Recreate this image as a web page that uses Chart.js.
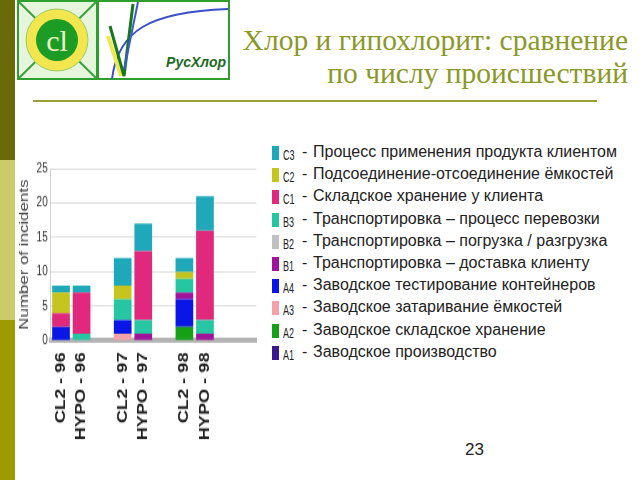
<!DOCTYPE html>
<html>
<head>
<meta charset="utf-8">
<script src="https://cdn.jsdelivr.net/npm/chart.js@4/dist/chart.umd.min.js"></script>
<style>
  html, body { margin:0; padding:0; background:#fff; width:640px; height:480px; overflow:hidden; }
  body { position:relative; font-family:"Liberation Sans", Arial, sans-serif; }
  .strip { position:absolute; left:0; width:15px; }
  #s1 { top:0; height:160px; background:#6a6a08; }
  #s2 { top:160px; height:160px; background:#cbcb6c; }
  #s3 { top:320px; height:160px; background:#9c9c02; }
  #logo { position:absolute; left:16px; top:0; }
  .title { position:absolute; right:12px; font-family:"Liberation Serif", "DejaVu Serif", serif; color:#8a9828; font-size:29.5px; white-space:nowrap; }
  #t1 { top:24px; }
  #t2 { top:57px; }
  #rule { position:absolute; left:33px; top:100px; width:564px; height:2px; background:#9aa032; }
  #chartWrap { position:absolute; left:10px; top:153px; width:262px; height:230px; transform:scaleY(1.3); transform-origin:0 0; }
  #legend { position:absolute; left:272px; top:143px; }
  .row { position:relative; height:22.2px; width:360px; }
  .sw { position:absolute; left:0; top:3px; width:7px; height:14px; }
  .code { position:absolute; left:11px; top:6px; font-size:9px; line-height:9px; color:#222; transform:scaleY(1.6); transform-origin:0 0; }
  .dash { position:absolute; left:30px; top:0px; font-size:16px; color:#222; }
  .desc { position:absolute; left:41px; top:0px; font-size:16px; color:#222; white-space:nowrap; }
  #page { position:absolute; left:465px; top:440px; font-size:17px; color:#222; }
</style>
</head>
<body>
<div class="strip" id="s1"></div>
<div class="strip" id="s2"></div>
<div class="strip" id="s3"></div>
<svg id="logo" width="216" height="82" viewBox="16 0 216 82">
  <rect x="18" y="1" width="79" height="78" fill="#e6f6dc" stroke="#2e9e2e" stroke-width="2"/>
  <line x1="18" y1="1" x2="97" y2="79" stroke="#3aa03a" stroke-width="2"/>
  <line x1="97" y1="1" x2="18" y2="79" stroke="#3aa03a" stroke-width="2"/>
  <circle cx="57" cy="40" r="31" fill="#f2e64e"/>
  <circle cx="57" cy="40" r="31" fill="none" stroke="#9ccc60" stroke-width="1"/>
  <circle cx="57" cy="40" r="21" fill="#1c9c24"/>
  <text x="57" y="51" text-anchor="middle" font-family="Liberation Serif" font-size="30" fill="#e8f4c8">cl</text>
  <rect x="98" y="1" width="131" height="78" fill="#fff" stroke="#2e9e2e" stroke-width="2"/>
  <path d="M112 79 C118 30, 150 12, 228 9" fill="none" stroke="#3a4ec8" stroke-width="2"/>
  <path d="M108 36 L121 76" stroke="#f0e850" stroke-width="4"/>
  <path d="M110 26 L124 76 L133 4" fill="none" stroke="#187818" stroke-width="3"/>
  <path d="M124 70 L138 2" stroke="#3a58d8" stroke-width="2"/>
  <text x="226" y="67" text-anchor="end" font-family="Liberation Sans" font-weight="bold" font-style="italic" font-size="14" fill="#1e6a1e">РусХлор</text>
</svg>
<div class="title" id="t1">Хлор и гипохлорит: сравнение</div>
<div class="title" id="t2">по числу происшествий</div>
<div id="rule"></div>
<div id="chartWrap"><canvas id="c" width="262" height="230"></canvas></div>
<div id="legend"></div>
<div id="page">23</div>
<script>
const categories = ["CL2 - 96", "HYPO - 96", "", "CL2 - 97", "HYPO - 97", "", "CL2 - 98", "HYPO - 98", "", ""];
const yTicks = [0, 5, 10, 15, 20, 25];
const codes = ["A1", "A2", "A3", "A4", "B1", "B2", "B3", "C1", "C2", "C3"];
const descriptions = [
  "Заводское производство",
  "Заводское складское хранение",
  "Заводское затаривание ёмкостей",
  "Заводское тестирование контейнеров",
  "Транспортировка – доставка клиенту",
  "Транспортировка – погрузка / разгрузка",
  "Транспортировка – процесс перевозки",
  "Складское хранение у клиента",
  "Подсоединение-отсоединение ёмкостей",
  "Процесс применения продукта клиентом"
];
const colors = ["#3c1890", "#16a016", "#f4a2aa", "#0a16e6", "#a0149c", "#c0c0c0", "#26c6a2", "#e0287c", "#c6c41e", "#1ea8ba"];
const A1 = [0, 0, null, 0, 0, null, 0, 0, null, null];
const A2 = [0, 0, null, 0, 0, null, 2, 0, null, null];
const A3 = [0, 0, null, 1, 0, null, 0, 0, null, null];
const A4 = [2, 0, null, 2, 0, null, 4, 0, null, null];
const B1 = [0, 0, null, 0, 1, null, 1, 1, null, null];
const B2 = [0, 0, null, 0, 0, null, 0, 0, null, null];
const B3 = [0, 1, null, 3, 2, null, 2, 2, null, null];
const C1 = [2, 6, null, 0, 10, null, 0, 13, null, null];
const C2 = [3, 0, null, 2, 0, null, 1, 0, null, null];
const C3 = [1, 1, null, 4, 4, null, 2, 5, null, null];
const series = [A1, A2, A3, A4, B1, B2, B3, C1, C2, C3];

// HTML legend (top row = C3)
const leg = document.getElementById('legend');
for (let i = codes.length - 1; i >= 0; i--) {
  const r = document.createElement('div');
  r.className = 'row';
  r.innerHTML = '<div class="sw" style="background:' + colors[i] + '"></div>' +
    '<span class="code">' + codes[i] + '</span><span class="dash">-</span>' +
    '<span class="desc">' + descriptions[i] + '</span>';
  leg.appendChild(r);
}

new Chart(document.getElementById('c'), {
  type: 'bar',
  data: {
    labels: categories,
    datasets: series.map((d, i) => ({
      label: codes[i],
      data: d,
      backgroundColor: colors[i],
      borderWidth: 0,
      barPercentage: 0.86,
      categoryPercentage: 1
    }))
  },
  options: {
    responsive: false,
    animation: false,
    layout: { padding: { top: 12, right: 2, bottom: 0, left: 6 } },
    plugins: { legend: { display: false }, tooltip: { enabled: false } },
    scales: {
      x: {
        stacked: true,
        grid: { display: false, drawTicks: false, tickLength: 0 },
        border: { color: '#b4b4b4', width: 4 },
        ticks: {
          autoSkip: false, minRotation: 90, maxRotation: 90, padding: 9,
          color: '#222', font: { family: 'Liberation Sans', size: 14, weight: 'bold' }
        }
      },
      y: {
        stacked: true,
        min: 0, max: 25,
        afterBuildTicks: s => { s.ticks = yTicks.map(v => ({ value: v })); },
        grid: { color: '#dcdcdc', drawTicks: false, tickLength: 0 },
        border: { color: '#d0d0d0' },
        ticks: { padding: 3, color: '#333', font: { family: 'Liberation Sans', size: 10 } },
        title: { display: true, text: 'Number of incidents', color: '#444', padding: 1,
                 font: { family: 'Liberation Sans', size: 13 } }
      }
    }
  }
});
</script>
</body>
</html>
